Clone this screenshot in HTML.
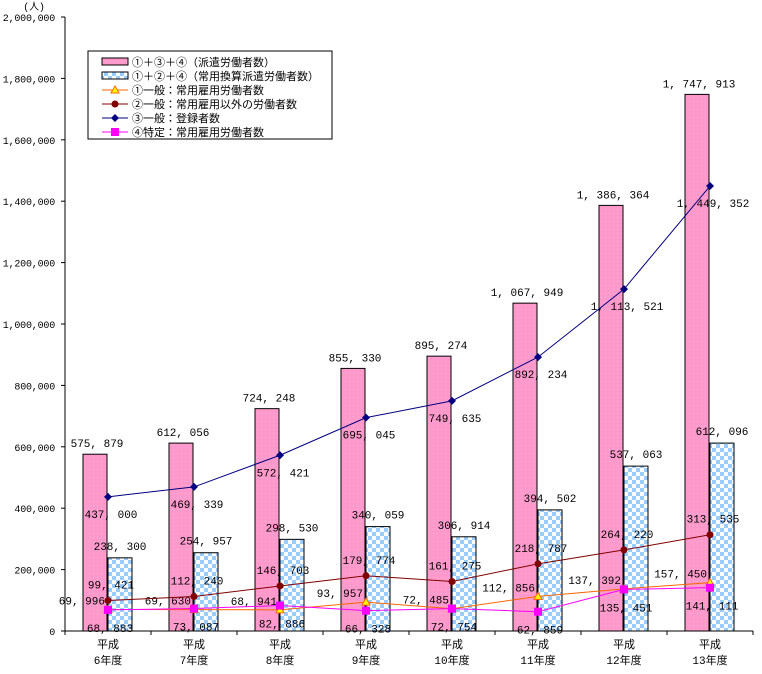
<!DOCTYPE html>
<html><head><meta charset="utf-8">
<style>
body{margin:0;background:#fff;}
svg text{font-family:"Liberation Mono","Noto Sans CJK JP",monospace;font-size:11px;fill:#000;}
svg text.yt{font-size:10px;letter-spacing:-0.2px;}
</style></head>
<body>
<svg id="c" width="762" height="669" xmlns="http://www.w3.org/2000/svg">
<defs>
<pattern id="pk" width="4" height="4" patternUnits="userSpaceOnUse"><rect width="4" height="4" fill="#ff99cc"/><rect x="1" y="1" width="1" height="1" fill="#ffb3d9"/></pattern>
<pattern id="ck" width="8" height="8" patternUnits="userSpaceOnUse"><rect width="8" height="8" fill="#fff"/><rect width="4" height="4" fill="#99ccff"/><rect x="4" y="4" width="4" height="4" fill="#99ccff"/></pattern>
</defs>
<g id="g"></g>
</svg>
<script>
const categories=["6","7","8","9","10","11","12","13"];
const haken=[575879,612056,724248,855330,895274,1067949,1386364,1747913];
const joyo=[238300,254957,298530,340059,306914,394502,537063,612096];
const ippanJoyo=[69996,69630,68941,93957,72485,112856,137392,157450];
const ippanIgai=[99421,112240,146703,179774,161275,218787,264220,313535];
const toroku=[437000,469339,572421,695045,749635,892234,1113521,1449352];
const tokutei=[68883,73087,82886,66328,72754,62859,135451,141111];
const yTicks=[0,200000,400000,600000,800000,1000000,1200000,1400000,1600000,1800000,2000000];

const NS="http://www.w3.org/2000/svg";
const g=document.getElementById('g');
const X0=65,X1=753,Y0=631,Y1=17,YMAX=2000000;
const cw=(X1-X0)/categories.length;
const y=v=>Y0-(v/YMAX)*(Y0-Y1);
const cx=i=>X0+cw*(i+0.5);
const fmt=v=>v.toLocaleString('en-US').replace(/,/g,', ');
function el(t,a,p){const e=document.createElementNS(NS,t);for(const k in a)e.setAttribute(k,a[k]);(p||g).appendChild(e);return e;}
function txt(x,yy,s,anchor){const t=el('text',{x:x,y:yy,'text-anchor':anchor||'middle'});t.textContent=s;return t;}

const ax=el('line',{x1:X0,y1:Y1,x2:X0,y2:Y0,stroke:'#000'});


const bx=el('line',{x1:X0,y1:Y0,x2:X1,y2:Y0,stroke:'#000'});


yTicks.forEach(v=>{
  el('line',{x1:X0-4,y1:y(v),x2:X0,y2:y(v),stroke:'#000'});
  const s=v===0?'0':v.toLocaleString('en-US');
  const t=txt(55,y(v)+4,s,'end');
  t.setAttribute('class','yt');
  
  
});
const ut=txt(34,10,'(人)');
ut.setAttribute('class','yt');


for(let i=0;i<=categories.length;i++)el('line',{x1:X0+cw*i,y1:Y0,x2:X0+cw*i,y2:Y0+4,stroke:'#000'});
categories.forEach((c,i)=>{
  const a=txt(cx(i),648,'平成');
  
  
  txt(cx(i),664,c+'年度');
});

haken.forEach((v,i)=>{
  const r=el('rect',{x:cx(i)-25,y:y(v),width:24,height:Y0-y(v),fill:'url(#pk)',stroke:'#000'});
  
  
  txt(cx(i)-11,y(v)-7,fmt(v));
});
joyo.forEach((v,i)=>{
  const r=el('rect',{x:cx(i),y:y(v),width:24,height:Y0-y(v),fill:'url(#ck)',stroke:'#000'});
  
  
  txt(cx(i)+12,y(v)-8,fmt(v));
});

function line(data,color,name,marker,lab){
  const p=el('polyline',{points:data.map((v,i)=>cx(i)+','+y(v)).join(' '),fill:'none',stroke:color,'stroke-width':1});
  
  
  data.forEach((v,i)=>{
    const X=cx(i),Y=y(v);let m;
    if(marker==='tri')m=el('polygon',{points:`${X},${Y-4} ${X-4},${Y+3} ${X+4},${Y+3}`,fill:'#ffff00',stroke:color});
    else if(marker==='circ')m=el('circle',{cx:X,cy:Y,r:3.5,fill:color});
    else if(marker==='dia')m=el('polygon',{points:`${X},${Y-4} ${X+4},${Y} ${X},${Y+4} ${X-4},${Y}`,fill:color});
    else m=el('rect',{x:X-4,y:Y-4,width:8,height:8,fill:color});
    
    
    lab(X,Y,fmt(v));
  });
}
line(ippanJoyo,'#ff6600','ippan-joyo','tri',(X,Y,s)=>txt(X-3,Y-5,s,'end'));
line(ippanIgai,'#800000','ippan-igai','circ',(X,Y,s)=>txt(X+3,Y-12,s));
line(toroku,'#000080','toroku','dia',(X,Y,s)=>txt(X+3,Y+21,s));
line(tokutei,'#ff00ff','tokutei','sq',(X,Y,s)=>txt(X+2,Y+22,s));

const L=el('g',{});


el('rect',{x:88,y:51,width:244,height:88,fill:'#fff',stroke:'#000'},L);
const items=[
 ['bar','url(#pk)','①＋③＋④（派遣労働者数）'],
 ['bar','url(#ck)','①＋②＋④（常用換算派遣労働者数）'],
 ['tri','#ff6600','①一般：常用雇用労働者数'],
 ['circ','#800000','②一般：常用雇用以外の労働者数'],
 ['dia','#000080','③一般：登録者数'],
 ['sq','#ff00ff','④特定：常用雇用労働者数']];
items.forEach((it,k)=>{
  const Y=62+k*14;
  if(it[0]==='bar')el('rect',{x:102,y:Y-4,width:26,height:7,fill:it[1],stroke:'#000'},L);
  else{
    el('line',{x1:102,y1:Y,x2:128,y2:Y,stroke:it[1]},L);
    if(it[0]==='tri')el('polygon',{points:`115,${Y-4} 111,${Y+3} 119,${Y+3}`,fill:'#ffff00',stroke:it[1]},L);
    if(it[0]==='circ')el('circle',{cx:115,cy:Y,r:3.5,fill:it[1]},L);
    if(it[0]==='dia')el('polygon',{points:`115,${Y-4} 119,${Y} 115,${Y+4} 111,${Y}`,fill:it[1]},L);
    if(it[0]==='sq')el('rect',{x:111,y:Y-4,width:8,height:8,fill:it[1]},L);
  }
  const t=el('text',{x:132,y:Y+4},L);t.textContent=it[2];
  
  
});
</script>
</body></html>
